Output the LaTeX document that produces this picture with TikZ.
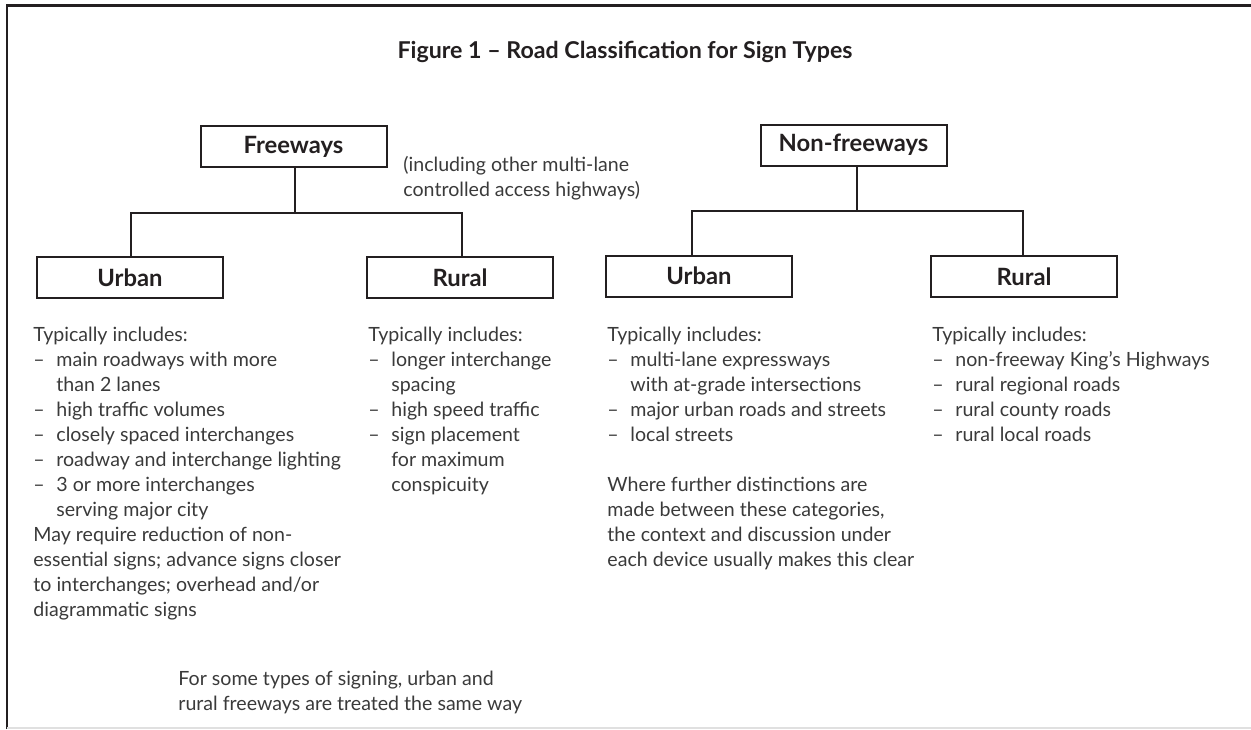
\documentclass[tikz,border=0pt]{standalone}
\usepackage{fontspec}
\setmainfont{Lato}
\usetikzlibrary{positioning}
\definecolor{ink}{HTML}{231F20}
\definecolor{txt}{HTML}{3A3A3A}
\newcommand{\dsh}{\makebox[11.5pt][l]{--}}
\newcommand{\ind}{\hspace*{11.5pt}}

\begin{document}
\begin{tikzpicture}[x=0.5pt,y=-0.5pt,
  box/.style={draw=ink,line width=1pt,minimum width=93pt,minimum height=20.5pt,inner sep=0pt,text=ink,font=\bfseries\fontsize{11.9}{14}\selectfont},
  blurb/.style={anchor=base west,align=left,inner sep=0pt,text=txt,font=\fontsize{9.8}{12.5}\selectfont},
  link/.style={draw=ink,line width=1pt}]
  \useasboundingbox (0,0) rectangle (1251,729);
  % frame
  \draw[ink,line width=1.3pt] (7,729) -- (7,5.5) -- (1251,5.5);
  \draw[black!12,line width=0.6pt] (7,728) -- (1251,728);
  \node[text=ink,font=\bfseries\fontsize{11.6}{14}\selectfont] (title) at (625,52) {Figure 1 -- Road Classification for Sign Types};

  % top level
  \node[box] (fw) at (293.5,146.5) {Freeways};
  \node[box] (nf) at (853.5,145) {Non-freeways};
  % base anchor of a multi-line node = its last line
  \node[blurb] (fwnote) at (403,196) {(including other multi-lane\\controlled access highways)};

  % second level
  \node[box] (fu) at (130,277.5) {Urban};
  \node[box] (fr) at (460,277.5) {Rural};
  \node[box] (nu) at (699,276) {Urban};
  \node[box] (nr) at (1024,276.5) {Rural};

  \coordinate (fwbar) at (295,213);
  \coordinate (nfbar) at (857,211);
  \draw[link] (fw.south -| fwbar) -- (fwbar) -| ([xshift=0.5pt]fu.north);
  \draw[link] (fwbar) -| ([xshift=1pt]fr.north);
  \draw[link] (nf.south -| nfbar) -- (nfbar) -| ([xshift=-3.5pt]nu.north);
  \draw[link] (nfbar) -| ([xshift=-0.5pt]nr.north);

  % descriptions
  \node[blurb] (fut) at (33,616) {Typically includes:\\
    \dsh main roadways with more\\ \ind than 2 lanes\\
    \dsh high traffic volumes\\
    \dsh closely spaced interchanges\\
    \dsh roadway and interchange lighting\\
    \dsh 3 or more interchanges\\ \ind serving major city\\
    May require reduction of non-\\
    essential signs; advance signs closer\\
    to interchanges; overhead and/or\\
    diagrammatic signs};
  \node[blurb] (frt) at (368,491) {Typically includes:\\
    \dsh longer interchange\\ \ind spacing\\
    \dsh high speed traffic\\
    \dsh sign placement\\ \ind for maximum\\ \ind conspicuity};
  \node[blurb] (nut) at (607,441) {Typically includes:\\
    \dsh multi-lane expressways\\ \ind with at-grade intersections\\
    \dsh major urban roads and streets\\
    \dsh local streets};
  \node[blurb] (nunote) at (607,566) {Where further distinctions are\\
    made between these categories,\\
    the context and discussion under\\
    each device usually makes this clear};
  \node[blurb] (nrt) at (932,441) {Typically includes:\\
    \dsh non-freeway King's Highways\\
    \dsh rural regional roads\\
    \dsh rural county roads\\
    \dsh rural local roads};
  \node[blurb] (fwsame) at (178,710) {For some types of signing, urban and\\
    rural freeways are treated the same way};
\end{tikzpicture}
\end{document}
